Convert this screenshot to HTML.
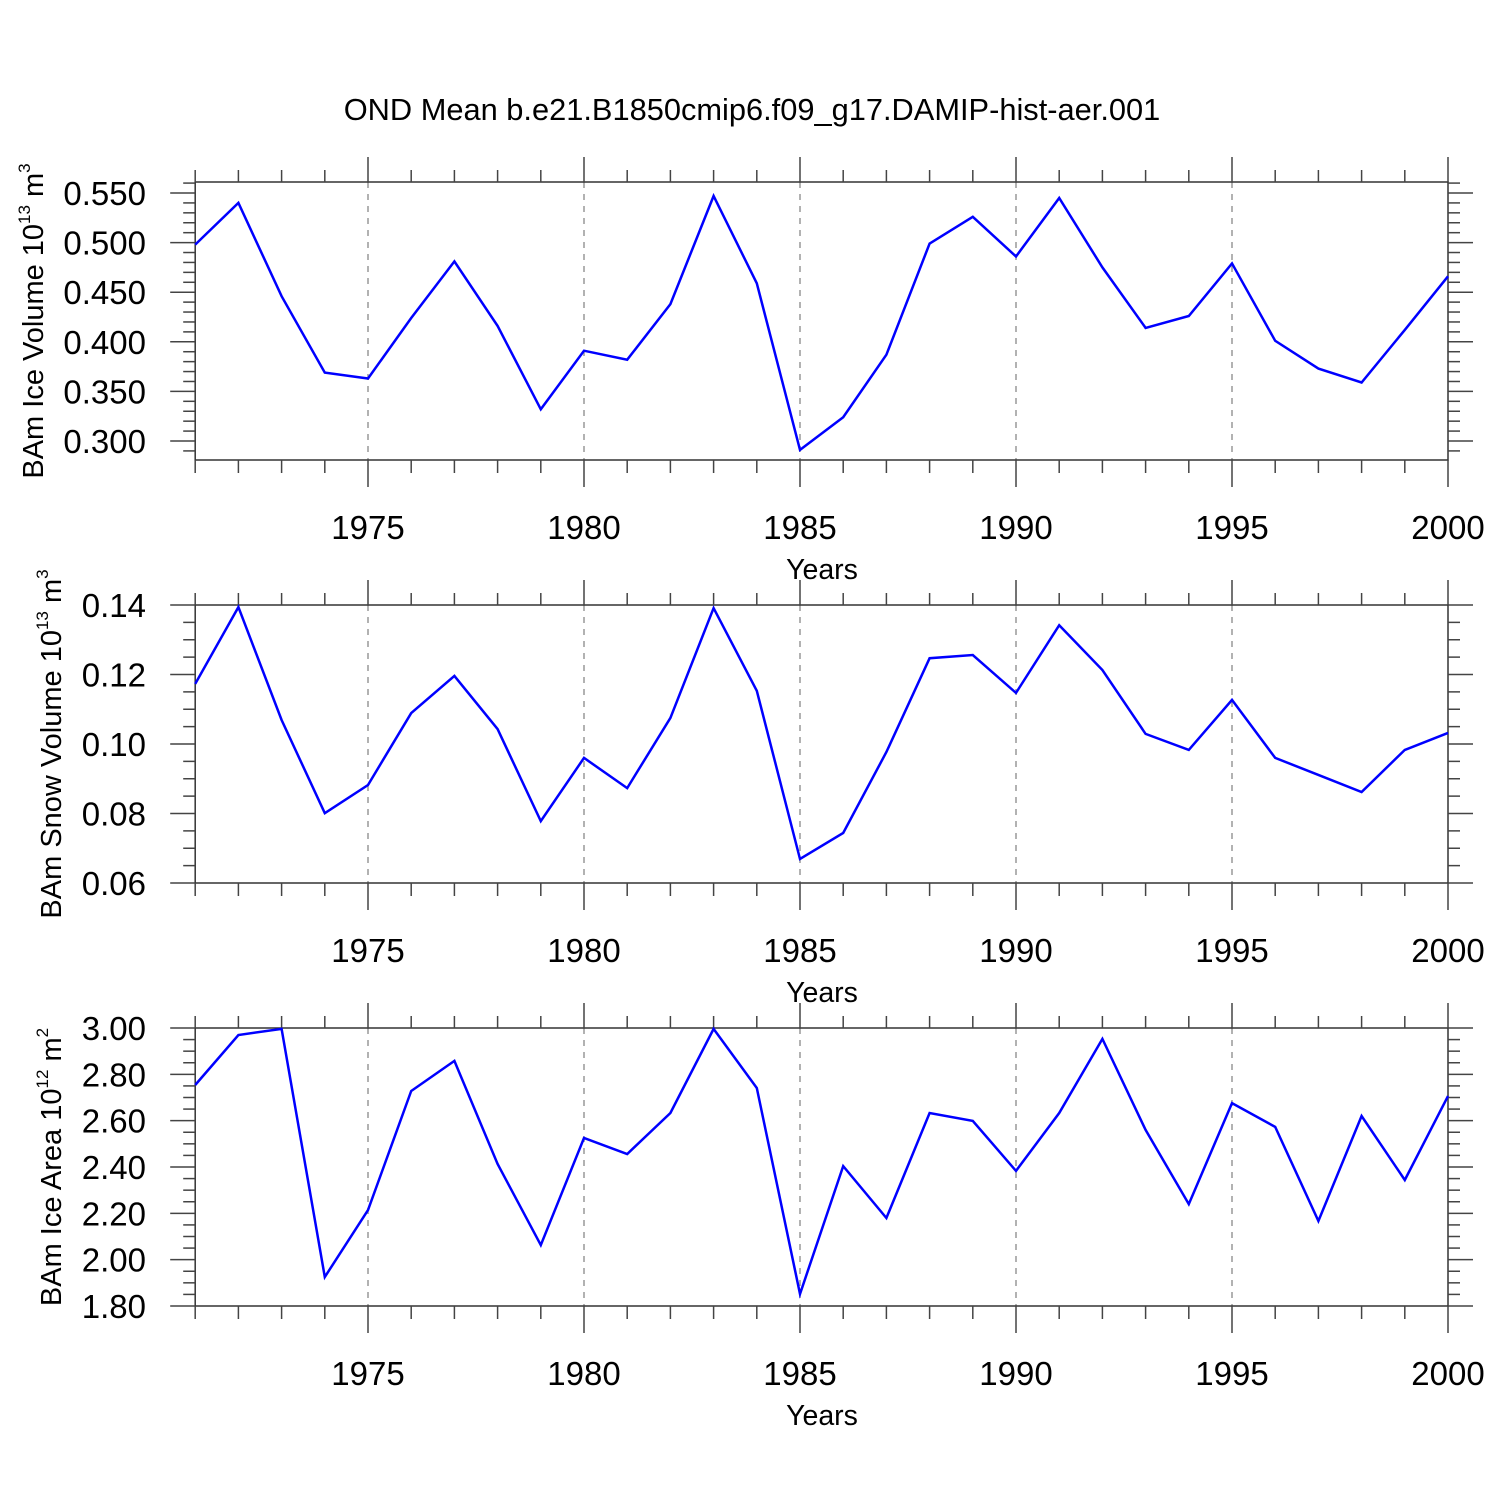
<!DOCTYPE html>
<html><head><meta charset="utf-8"><style>
html,body{margin:0;padding:0;background:#fff;}
svg{display:block;font-family:"Liberation Sans",Arial,sans-serif;}
</style></head><body>
<svg id="chart" width="1500" height="1500" viewBox="0 0 1500 1500" xmlns="http://www.w3.org/2000/svg">
<rect width="1500" height="1500" fill="#fff"/>
<text x="752" y="120" font-size="30.8" text-anchor="middle">OND Mean b.e21.B1850cmip6.f09_g17.DAMIP-hist-aer.001</text>
</svg>
<script>
const years = [1971,1972,1973,1974,1975,1976,1977,1978,1979,1980,1981,1982,1983,1984,1985,1986,1987,1988,1989,1990,1991,1992,1993,1994,1995,1996,1997,1998,1999,2000];
const xTickLabels = [1975,1980,1985,1990,1995,2000];
const iceVolume = [0.498,0.540,0.446,0.369,0.363,0.424,0.481,0.416,0.332,0.391,0.382,0.438,0.547,0.459,0.291,0.324,0.387,0.499,0.526,0.486,0.545,0.475,0.414,0.426,0.479,0.401,0.373,0.359,0.412,0.466];
const snowVolume = [0.1173,0.1394,0.1069,0.0801,0.0882,0.1089,0.1196,0.1043,0.0778,0.0960,0.0873,0.1075,0.1391,0.1153,0.0669,0.0744,0.0977,0.1247,0.1256,0.1147,0.1342,0.1213,0.1029,0.0983,0.1127,0.0960,0.0911,0.0862,0.0983,0.1032];
const iceArea = [2.754,2.970,2.996,1.925,2.214,2.728,2.858,2.413,2.063,2.525,2.456,2.633,2.996,2.741,1.852,2.404,2.180,2.633,2.599,2.383,2.633,2.953,2.560,2.240,2.676,2.573,2.167,2.620,2.344,2.706];
const iceVolumeTicks = ["0.300","0.350","0.400","0.450","0.500","0.550"];
const snowVolumeTicks = ["0.06","0.08","0.10","0.12","0.14"];
const iceAreaTicks = ["1.80","2.00","2.20","2.40","2.60","2.80","3.00"];

const NS="http://www.w3.org/2000/svg";
const svg=document.getElementById('chart');
function mk(tag,attrs,parent){const e=document.createElementNS(NS,tag);for(const k in attrs)e.setAttribute(k,attrs[k]);(parent||svg).appendChild(e);return e;}
const X0=195.2,X1=1448;
function xs(yr){return X0+(yr-1971)*(X1-X0)/29;}

function panel(cfg){
  const g=mk('g',{});
  
  
  const top=cfg.top,bot=cfg.top+278;
  const ys=v=>cfg.y0px+(v-cfg.v0)*(cfg.y1px-cfg.y0px)/(cfg.v1-cfg.v0);
  xTickLabels.slice(0,5).forEach(yr=>{
    const l=mk('line',{x1:xs(yr),x2:xs(yr),y1:top,y2:bot,stroke:'#999','stroke-width':1.5,'stroke-dasharray':'6,6'},g);
    
    
  });
  const fr=mk('rect',{x:X0,y:top,width:X1-X0,height:278,fill:'none',stroke:'#333','stroke-width':1.5},g);
  
  
  years.forEach(yr=>{
    const major=yr%5===0, x=xs(yr);
    mk('line',{x1:x,x2:x,y1:top,y2:top-(major?25:12),stroke:'#444','stroke-width':1.5},g);
    mk('line',{x1:x,x2:x,y1:bot,y2:bot+(major?27:13),stroke:'#444','stroke-width':1.5},g);
  });
  xTickLabels.forEach(yr=>{
    const t=mk('text',{x:xs(yr),y:bot+79,'font-size':33,'text-anchor':'middle'},g);
    t.textContent=yr;
    
    
  });
  const xt=mk('text',{x:822,y:bot+119,'font-size':28.5,'text-anchor':'middle'},g);
  xt.textContent='Years';
  
  
  const vmin=cfg.v0+(bot-cfg.y0px)*(cfg.v1-cfg.v0)/(cfg.y1px-cfg.y0px);
  const vmax=cfg.v0+(top-cfg.y0px)*(cfg.v1-cfg.v0)/(cfg.y1px-cfg.y0px);
  const lo=Math.min(vmin,vmax),hi=Math.max(vmin,vmax);
  for(let k=Math.ceil((lo-1e-9)/cfg.minor);k*cfg.minor<=hi+1e-9;k++){
    const v=k*cfg.minor,y=ys(v);
    const major=Math.abs(v/cfg.major-Math.round(v/cfg.major))<1e-6;
    const len=major?25:12;
    mk('line',{x1:X0,x2:X0-len,y1:y,y2:y,stroke:'#444','stroke-width':1.5},g);
    mk('line',{x1:X1,x2:X1+len,y1:y,y2:y,stroke:'#444','stroke-width':1.5},g);
  }
  cfg.ticks.forEach(s=>{
    const t=mk('text',{x:146,y:ys(parseFloat(s))+12,'font-size':33,'text-anchor':'end'},g);
    t.textContent=s;
    
    
  });
  const yt=mk('text',{transform:`translate(${cfg.titleX},${top+139}) rotate(-90)`,'font-size':29,'text-anchor':'middle'},g);
  yt.innerHTML=cfg.title+' 10<tspan font-size="17" dy="-13">'+cfg.exp+'</tspan><tspan dy="13"> m</tspan><tspan font-size="17" dy="-13">'+cfg.unitExp+'</tspan>';
  
  
  const pts=cfg.data.map((v,i)=>xs(years[i]).toFixed(1)+','+ys(v).toFixed(1)).join(' ');
  const pl=mk('polyline',{points:pts,fill:'none',stroke:'#0000ff','stroke-width':2.5,'stroke-linejoin':'miter'},g);
  
  
}
panel({name:'ice-volume-panel',top:182,data:iceVolume,v0:0.55,y0px:193,v1:0.30,y1px:441,minor:0.01,major:0.05,ticks:iceVolumeTicks,title:'BAm Ice Volume',exp:'13',unitExp:'3',titleX:43});
panel({name:'snow-volume-panel',top:605,data:snowVolume,v0:0.14,y0px:605,v1:0.06,y1px:883,minor:0.005,major:0.02,ticks:snowVolumeTicks,title:'BAm Snow Volume',exp:'13',unitExp:'3',titleX:61});
panel({name:'ice-area-panel',top:1028,data:iceArea,v0:3.0,y0px:1028,v1:1.8,y1px:1306,minor:0.05,major:0.2,ticks:iceAreaTicks,title:'BAm Ice Area',exp:'12',unitExp:'2',titleX:61});
</script>
</body></html>
